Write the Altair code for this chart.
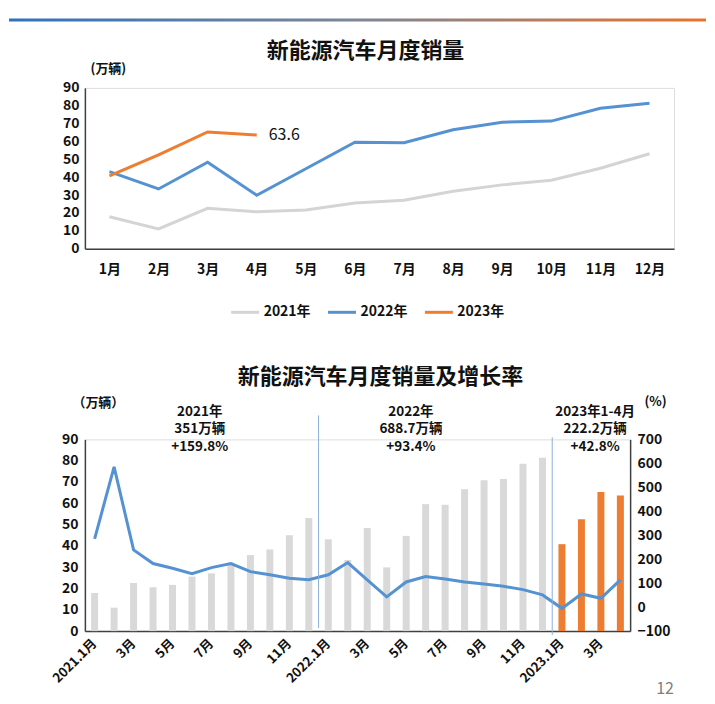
import altair as alt
import pandas as pd

FONT = "Noto Sans CJK SC"
TEXT = "#111111"
GRAY_LINE = "#d4d4d4"
BLUE = "#5592d2"
ORANGE = "#ed7d31"
BAR_GRAY = "#d9d9d9"
AXIS = "#404040"

# ---------------- data ----------------
months = ["1月", "2月", "3月", "4月", "5月", "6月", "7月", "8月", "9月", "10月", "11月", "12月"]
years = ["2021年", "2022年", "2023年"]
sales_2021 = [17.9, 11.0, 22.6, 20.6, 21.7, 25.6, 27.1, 32.1, 35.7, 38.3, 45.0, 53.1]
sales_2022 = [43.1, 33.4, 48.4, 29.9, 44.7, 59.6, 59.3, 66.6, 70.8, 71.4, 78.6, 81.4]
sales_2023 = [40.8, 52.5, 65.3, 63.6]

growth_2021 = [285, 585, 239, 182, 162, 140, 165, 182, 148, 135, 121, 114]
growth_2022 = [135, 186, 114, 43, 105, 128, 117, 105, 97, 87, 73, 51]
growth_2023 = [-5, 55, 37, 114]

bottom_ticks = ["2021.1月", "", "3月", "", "5月", "", "7月", "", "9月", "", "11月", "",
                "2022.1月", "", "3月", "", "5月", "", "7月", "", "9月", "", "11月", "",
                "2023.1月", "", "3月", ""]

ann_year = ["2021年", "2022年", "2023年1-4月"]
ann_total = ["351万辆", "688.7万辆", "222.2万辆"]
ann_rate = ["+159.8%", "+93.4%", "+42.8%"]
ann_at = [6, 17, 26]

top_title = "新能源汽车月度销量"
bottom_title = "新能源汽车月度销量及增长率"
page_no = "12"

# ---------------- top chart ----------------
W1, H1 = 590, 161
W2, H2 = 546, 192

rows = []
for y, ser in zip(years, [sales_2021, sales_2022, sales_2023]):
    for m, v in zip(months, ser):
        rows.append({"month": m, "year": y, "value": v})
top_df = pd.DataFrame(rows)

x_top = alt.X("month:N", sort=months,
              scale=alt.Scale(type="point", domain=months, padding=0.5),
              axis=alt.Axis(title=None, labelAngle=0, ticks=False, domainColor=AXIS, domainWidth=1.5,
                            labelFont=FONT, labelFontSize=14, labelFontWeight="bold", labelColor=TEXT,
                            labelPadding=14))
y_top = alt.Y("value:Q", scale=alt.Scale(domain=[0, 90], nice=False),
              axis=alt.Axis(values=list(range(0, 91, 10)), grid=False, ticks=False, domainColor=AXIS,
                            domainWidth=1.5, labelFont=FONT, labelFontSize=14, labelFontWeight="bold",
                            labelColor=TEXT, labelPadding=6,
                            title="(万辆)", titleAngle=0, titleX=23, titleY=-19, titleAlign="center",
                            titleBaseline="middle", titleFont=FONT, titleFontSize=13,
                            titleFontWeight="bold", titleColor=TEXT))

top_lines = alt.Chart(top_df).mark_line(strokeWidth=3).encode(
    x=x_top, y=y_top,
    color=alt.Color("year:N", scale=alt.Scale(domain=years, range=[GRAY_LINE, BLUE, ORANGE]),
                    legend=alt.Legend(orient="none", legendX=145, legendY=209, direction="horizontal",
                                      title=None, symbolType="stroke", symbolSize=784,
                                      symbolStrokeWidth=3, labelFont=FONT, labelFontSize=14,
                                      labelFontWeight="bold", labelColor=TEXT, labelOffset=3,
                                      columnPadding=10)),
)

top_label = alt.Chart(top_df).transform_filter(
    (alt.datum.year == "2023年") & (alt.datum.month == "4月")
).mark_text(align="left", baseline="middle", dx=12, font=FONT, fontSize=16, color=TEXT).encode(
    x=x_top, y=y_top, text=alt.Text("value:Q", format=".1f"))

top_title_mark = alt.Chart(pd.DataFrame({"t": [top_title]})).mark_text(
    font=FONT, fontSize=22, fontWeight="bold", color=TEXT, align="center", baseline="middle"
).encode(text="t:N", x=alt.value(281), y=alt.value(-37))

grad = alt.Gradient(gradient="linear", x1=0, x2=1, y1=0, y2=0,
                    stops=[alt.GradientStop(offset=0, color="#2f72bd"),
                           alt.GradientStop(offset=0.5, color="#7d8696"),
                           alt.GradientStop(offset=1, color="#e8732c")])
top_bar = alt.Chart(pd.DataFrame({"k": [0]})).mark_rect(fill=grad).encode(
    x=alt.value(-76), x2=alt.value(622), y=alt.value(-69.5), y2=alt.value(-66.5))

top = alt.layer(top_bar, top_lines, top_label, top_title_mark).properties(width=W1, height=H1)

# ---------------- bottom chart ----------------
n = len(bottom_ticks)
bdf = pd.DataFrame({
    "idx": list(range(n)),
    "sales": sales_2021 + sales_2022 + sales_2023,
    "growth": growth_2021 + growth_2022 + growth_2023,
})

label_expr = "[" + ",".join("'" + t + "'" for t in bottom_ticks) + "][datum.value]"
x_axis_b = alt.Axis(title=None, labelAngle=-45, labelAlign="right", labelBaseline="middle",
                    ticks=False, domainColor=AXIS, domainWidth=1.5, labelFont=FONT, labelFontSize=13,
                    labelFontWeight="bold", labelColor=TEXT, labelPadding=10, labelOverlap=False,
                    labelExpr=label_expr)
x_scale_b = alt.Scale(type="band", domain=list(range(n)), paddingInner=0, paddingOuter=0)


def xb(bp=0.5):
    return alt.X("idx:O", scale=x_scale_b, axis=x_axis_b, bandPosition=bp)


bars = alt.Chart(bdf).mark_bar(size=7).encode(
    x=xb(),
    y=alt.Y("sales:Q", scale=alt.Scale(domain=[0, 90], nice=False),
            axis=alt.Axis(orient="left", values=list(range(0, 91, 10)), grid=False, ticks=False,
                          domainColor=AXIS, domainWidth=1.5, labelFont=FONT, labelFontSize=14,
                          labelFontWeight="bold", labelColor=TEXT, labelPadding=7,
                          title="（万辆）", titleAngle=0, titleX=13, titleY=-37, titleAlign="center",
                          titleBaseline="middle", titleFont=FONT, titleFontSize=13,
                          titleFontWeight="bold", titleColor=TEXT)),
    color=alt.condition(alt.datum.idx >= 24, alt.value(ORANGE), alt.value(BAR_GRAY)),
)

growth_line = alt.Chart(bdf).mark_line(color=BLUE, strokeWidth=3).encode(
    x=xb(),
    y=alt.Y("growth:Q", scale=alt.Scale(domain=[-100, 700], nice=False),
            axis=alt.Axis(orient="right", values=list(range(-100, 701, 100)), grid=False, ticks=False,
                          domainColor=AXIS, domainWidth=1.5, labelFont=FONT, labelFontSize=14,
                          labelFontWeight="bold", labelColor=TEXT, labelPadding=7,
                          title="(%)", titleAngle=0, titleX=25, titleY=-38, titleAlign="center",
                          titleBaseline="middle", titleFont=FONT, titleFontSize=13,
                          titleFontWeight="bold", titleColor=TEXT)),
)

rule1 = alt.Chart(pd.DataFrame({"idx": [12]})).mark_rule(color="#8db0dc", strokeWidth=1).encode(
    x=xb(0), y=alt.value(-24), y2=alt.value(189))
rule2 = alt.Chart(pd.DataFrame({"idx": [24]})).mark_rule(color="#8db0dc", strokeWidth=1).encode(
    x=xb(0), y=alt.value(-2), y2=alt.value(196))


def ann(i, dx):
    d = pd.DataFrame({"idx": [ann_at[i]], "a": [ann_year[i]], "b": [ann_total[i]], "c": [ann_rate[i]]})
    layers = []
    for field, ypos in (("a", -27.5), ("b", -10), ("c", 7.5)):
        layers.append(alt.Chart(d).mark_text(
            font=FONT, fontSize=13.5, fontWeight="bold", color=TEXT, align="center",
            baseline="middle", dx=dx
        ).encode(x=xb(0), y=alt.value(ypos), text=f"{field}:N"))
    return layers


bottom_title_mark = alt.Chart(pd.DataFrame({"t": [bottom_title]})).mark_text(
    font=FONT, fontSize=22, fontWeight="bold", color=TEXT, align="center", baseline="middle"
).encode(text="t:N", x=alt.value(296), y=alt.value(-62))

page_mark = alt.Chart(pd.DataFrame({"t": [page_no]})).mark_text(
    font=FONT, fontSize=16, color="#7f7f7f", align="center", baseline="middle"
).encode(text="t:N", x=alt.value(581), y=alt.value(250))

bottom = alt.layer(
    bars, growth_line, rule1, rule2,
    *ann(0, -2), *ann(1, -5), *ann(2, 4),
    bottom_title_mark, page_mark
).resolve_scale(y="independent").properties(width=W2, height=H2)

chart = alt.vconcat(top, bottom, spacing=191, bounds="flush").properties(
    padding={"left": 0, "top": 9.5, "right": 0, "bottom": 0}
).configure_view(stroke=None).configure(background="white")

chart.save("out.html", embed_options={"renderer": "svg", "actions": False})
